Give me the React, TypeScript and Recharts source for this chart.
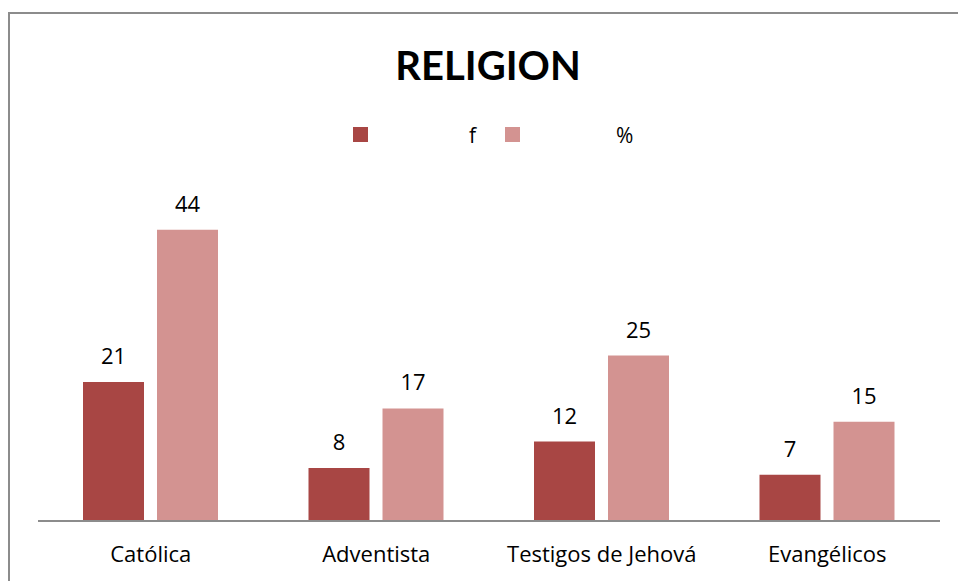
import { BarChart, Bar, XAxis, YAxis, LabelList } from "recharts";

const categories = ["Católica", "Adventista", "Testigos de Jehová", "Evangélicos"];
const freq = [21, 8, 12, 7];
const pct = [44, 17, 25, 15];

const data = categories.map((name, i) => ({ name, f: freq[i], pct: pct[i] }));

const FONT = "'Open Sans', sans-serif";
const TITLE_FONT = "Lato, sans-serif";
const DARK = "#A84644";
const LIGHT = "#D39391";

function LegendBox() {
  const items = [
    { label: "f", color: DARK, left: 353, textLeft: 116 },
    { label: "%", color: LIGHT, left: 505, textLeft: 111 },
  ];
  return (
    <div style={{ position: "absolute", left: 0, top: 121, width: 958, height: 28, fontFamily: FONT, fontSize: 21 }}>
      {items.map((it) => (
        <div key={it.label} style={{ position: "absolute", left: it.left, top: 0 }}>
          <span
            style={{
              position: "absolute",
              left: 0,
              top: 6,
              width: 15,
              height: 15,
              background: it.color,
            }}
          />
          <span style={{ position: "absolute", left: it.textLeft, top: 0, lineHeight: "28px", color: "#000" }}>
            {it.label}
          </span>
        </div>
      ))}
    </div>
  );
}

export default function App() {
  return (
    <div style={{ position: "absolute", left: 0, top: 0, width: 958, height: 581, overflow: "hidden", background: "#fff" }}>
      <div
        style={{
          position: "absolute",
          left: 8,
          top: 12,
          width: 1000,
          height: 1000,
          border: "2px solid #8c8c8c",
          boxSizing: "border-box",
        }}
      />
      <div
        style={{
          position: "absolute",
          left: 0,
          top: 40,
          width: 976,
          textAlign: "center",
          fontFamily: TITLE_FONT,
          fontWeight: 700,
          fontSize: 40,
          lineHeight: "50px",
          color: "#000",
        }}
      >
        RELIGION
      </div>
      <LegendBox />
      <div style={{ position: "absolute", left: 0, top: 0 }}>
        <BarChart
          width={958}
          height={581}
          data={data}
          margin={{ top: 190, right: 18, bottom: 30, left: 38 }}
          barCategoryGap="20%"
          barGap={13}
        >
          <XAxis
            dataKey="name"
            height={30}
            axisLine={{ stroke: "#8c8c8c", strokeWidth: 2 }}
            tickLine={false}
            tickMargin={19}
            tick={{ fill: "#000", fontSize: 22, fontFamily: FONT }}
            interval={0}
          />
          <YAxis hide domain={[0, 50]} />
          <Bar dataKey="f" name="f" fill={DARK} barSize={61} isAnimationActive={false}>
            <LabelList dataKey="f" position="top" offset={18} fill="#000" fontSize={22} fontFamily={FONT} />
          </Bar>
          <Bar dataKey="pct" name="%" fill={LIGHT} barSize={61} isAnimationActive={false}>
            <LabelList dataKey="pct" position="top" offset={18} fill="#000" fontSize={22} fontFamily={FONT} />
          </Bar>
        </BarChart>
      </div>
    </div>
  );
}
